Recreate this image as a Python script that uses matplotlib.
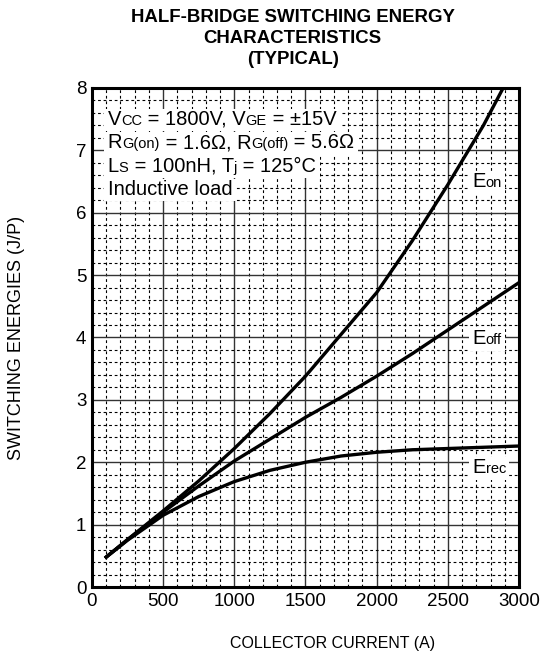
import matplotlib
matplotlib.use("Agg")
import matplotlib.pyplot as plt
from matplotlib.transforms import offset_copy
from matplotlib.patches import Rectangle
import numpy as np

plt.rcParams['font.family'] = ['Liberation Sans', 'DejaVu Sans']

# collector current (A)
current = [100, 250, 500, 750, 1000, 1250, 1500, 1750, 2000, 2250, 2500, 2750, 3000]
current_on = [100, 250, 500, 750, 1000, 1250, 1500, 1750, 2000, 2250, 2500, 2750, 2900]
# switching energies (J/P)
e_on = [0.48, 0.76, 1.22, 1.70, 2.22, 2.78, 3.38, 4.05, 4.72, 5.55, 6.45, 7.40, 8.05]
e_off = [0.48, 0.76, 1.20, 1.62, 2.02, 2.37, 2.72, 3.04, 3.38, 3.74, 4.12, 4.50, 4.88]
e_rec = [0.48, 0.75, 1.15, 1.45, 1.69, 1.87, 2.00, 2.10, 2.16, 2.20, 2.22, 2.24, 2.26]

x_ticks = [0, 500, 1000, 1500, 2000, 2500, 3000]
y_ticks = [0, 1, 2, 3, 4, 5, 6, 7, 8]

title = "HALF-BRIDGE SWITCHING ENERGY\nCHARACTERISTICS\n(TYPICAL)"
# (text, is_small) pieces for each line of the conditions box
cond_lines = [
    [("V", 0), ("CC", 1), (" = 1800V, V", 0), ("GE", 1), (" = ±15V", 0)],
    [("R", 0), ("G(on)", 1), (" = 1.6Ω, R", 0), ("G(off)", 1), (" = 5.6Ω", 0)],
    [("L", 0), ("S", 1), (" = 100nH, T", 0), ("j", 1), (" = 125°C", 0)],
    [("Inductive load", 0)],
]
curve_labels = [("on", 6.52), ("off", 4.0), ("rec", 1.93)]

fig = plt.figure(figsize=(5.42, 6.58), dpi=100)
ax = fig.add_axes([0.1697, 0.1079, 0.7879, 0.7584])

ax.plot(current_on, e_on, color='black', lw=2.4, zorder=3)
ax.plot(current, e_off, color='black', lw=2.4, zorder=3)
ax.plot(current, e_rec, color='black', lw=2.4, zorder=3)

ax.set_xlim(0, 3000)
ax.set_ylim(0, 8)
ax.set_xticks(x_ticks)
ax.set_yticks(y_ticks)
ax.set_xticks(np.arange(0, 3001, 100), minor=True)
ax.set_yticks(np.arange(0, 8.01, 0.2), minor=True)
ax.grid(which='major', color='#333333', lw=1.0, ls='-')
ax.grid(which='minor', color='black', lw=0.8, ls=(0, (2.5, 2.5)))
ax.tick_params(which='both', length=0, labelsize=13.5, pad=4)
for s in ax.spines.values():
    s.set_linewidth(2.2)
    s.set_zorder(6)

ax.set_xlabel("COLLECTOR CURRENT (A)", fontsize=11.5)
ax.set_ylabel("SWITCHING ENERGIES (J/P)", fontsize=13)
ax.xaxis.set_label_coords(0.564, -0.098)
ax.yaxis.set_label_coords(-0.157, 0.5)

fig.text(0.54, 1 - 9 / 658, title, ha='center', va='top', fontsize=13.4,
         fontweight='bold', linespacing=1.3)

renderer = fig.canvas.get_renderer()


def draw_pieces(x, y, pieces, big, small, pad_x):
    dx = 0
    for txt, is_small in pieces:
        tr = offset_copy(ax.transData, fig=fig, x=dx, y=0, units='dots')
        t = ax.text(x, y, txt, transform=tr, va='baseline', ha='left',
                    fontsize=small if is_small else big, zorder=5)
        dx += t.get_window_extent(renderer).width
    # white background behind the whole line, hides the grid
    h = big * 100 / 72
    px0, py0 = ax.transData.transform((x, y))
    inv = ax.transData.inverted()
    (x0, y0) = inv.transform((px0 - pad_x, py0 - 0.32 * h))
    (x1, y1) = inv.transform((px0 + dx + pad_x, py0 + 0.8 * h))
    ax.add_patch(Rectangle((x0, y0), x1 - x0, y1 - y0, facecolor='white',
                           edgecolor='none', zorder=4))


for i, pieces in enumerate(cond_lines):
    draw_pieces(110, 7.41 - i * 0.375, pieces, 14.5, 10.5, 4)

for sub, yv in curve_labels:
    draw_pieces(2672, yv - 0.11, [("E", 0), (sub, 1)], 14.5, 10.5, 3)

fig.savefig("out.png", dpi=100)
